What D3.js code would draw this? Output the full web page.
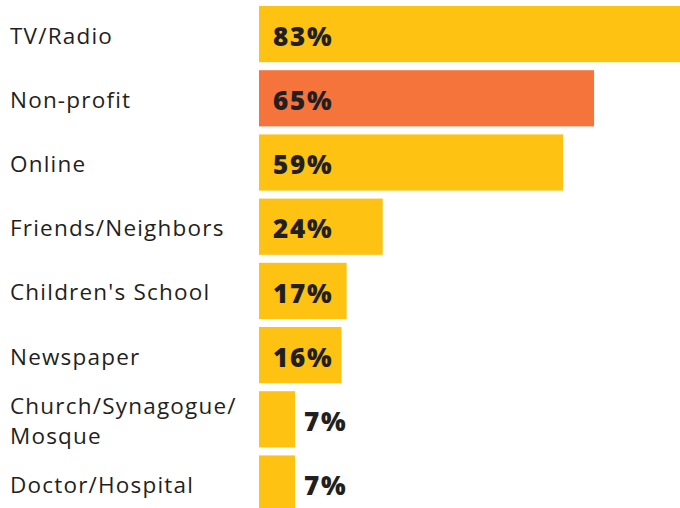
<!DOCTYPE html>
<html>
<head>
<meta charset="utf-8">
<script src="https://cdn.jsdelivr.net/npm/d3@7"></script>
<style>
html,body{margin:0;padding:0;background:#fff;}
svg{display:block;}
</style>
</head>
<body>
<svg id="chart" width="680" height="508"></svg>
<script>
const categories = ["TV/Radio","Non-profit","Online","Friends/Neighbors","Children's School","Newspaper","Church/Synagogue/\nMosque","Doctor/Hospital"];
const values = [83,65,59,24,17,16,7,7];
const highlight = ["Non-profit"];

const W = 680, H = 508;
const svg = d3.select("#chart");
const x0 = 259;
const x = d3.scaleLinear().domain([0,100]).range([x0, x0 + 515.5]);
const y = d3.scaleBand().domain(categories).range([2, 2 + 8*64.2]).paddingInner(0.125).paddingOuter(0.0625);

const data = categories.map((c,i)=>({c, v: values[i]}));
const font = "'Open Sans', sans-serif";

svg.selectAll("rect.bar").data(data).join("rect")
  .attr("class","bar")
  .attr("x", x(0))
  .attr("y", d=>y(d.c))
  .attr("width", d=>x(d.v)-x(0))
  .attr("height", y.bandwidth())
  .attr("fill", d=>highlight.includes(d.c) ? "#F5743C" : "#FDC212");

// category labels
const lab = svg.selectAll("text.cat").data(data).join("text")
  .attr("class","cat")
  .attr("font-family", font)
  .attr("font-size", 22.5)
  .attr("letter-spacing", 1.2)
  .attr("fill", "#231f20");
lab.each(function(d){
  const lines = d.c.split("\n");
  const cy = y(d.c) + y.bandwidth()/2;
  const lh = 30;
  const t = d3.select(this);
  lines.forEach((ln,i)=>{
    t.append("tspan").attr("x", 10)
     .attr("y", cy + (i - (lines.length-1)/2)*lh)
     .attr("dy", "0.42em")
     .text(ln);
  });
});

// value labels
svg.selectAll("text.val").data(data).join("text")
  .attr("class","val")
  .attr("font-family", font)
  .attr("font-weight", 800)
  .attr("font-size", 26)
  .attr("letter-spacing", 1.8)
  .attr("fill", "#231f20")
  .attr("x", d => (x(d.v)-x(0)) > 70 ? x(0) + 14 : x(d.v) + 9)
  .attr("y", d => y(d.c) + y.bandwidth()/2)
  .attr("dy", "0.45em")
  .text(d => d.v + "%");
</script>
</body>
</html>
